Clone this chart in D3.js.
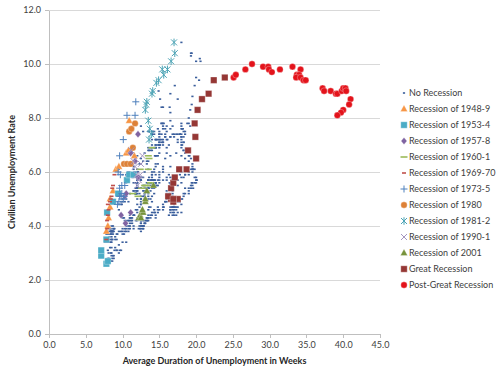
<!DOCTYPE html>
<html lang="en">
<head>
<meta charset="UTF-8">
<title>Unemployment rate vs duration</title>
<script src="https://cdn.jsdelivr.net/npm/d3@7"></script>
<style>
  body { margin: 0; background: #fff; }
  svg { font-family: Lato, "Open Sans", sans-serif; }
  .tick text { font-size: 9px; fill: #404040; }
  .axis-title { font-size: 9px; font-weight: bold; fill: #262626; }
  .legend text { font-size: 9px; fill: #404040; }
</style>
</head>
<body>
<svg width="500" height="375"></svg>
<script>
// series names in legend order
var seriesNames = ["No Recession", "Recession of 1948-9", "Recession of 1953-4", "Recession of 1957-8",
  "Recession of 1960-1", "Recession of 1969-70", "Recession of 1973-5", "Recession of 1980",
  "Recession of 1981-2", "Recession of 1990-1", "Recession of 2001", "Great Recession", "Post-Great Recession"];

var xTicks = [0, 5, 10, 15, 20, 25, 30, 35, 40, 45];
var yTicks = [0, 2, 4, 6, 8, 10, 12];

// [average duration (weeks), unemployment rate]
var noRecession = [
  [8.5,3.4],[8.4,3.8],[8.7,4.0],[8.9,3.9],[8.6,3.5],[8.2,3.6],[8.5,3.6],[8.3,3.9],[8.0,3.8],[8.1,3.7],
  [11.5,6.4],[12.0,6.6],
  [12.5,6.5],[13.5,6.4],[13.3,6.3],[13.6,5.8],[13.0,5.5],[12.5,5.4],[12.5,5.0],[12.0,4.5],[11.5,4.4],[10.8,4.2],[10.3,4.2],[10.0,4.3],
  [10.0,3.7],[10.5,3.4],[10.0,3.4],[9.8,3.1],[9.5,3.0],[9.0,3.2],[9.2,3.1],[9.6,3.1],[9.5,3.3],[9.0,3.5],[9.2,3.5],[9.2,3.1],
  [8.5,3.2],[8.9,3.1],[8.8,2.9],[8.5,2.9],[8.4,3.0],[8.5,3.0],[8.3,3.2],[8.4,3.4],[8.0,3.1],[8.1,3.0],[8.6,2.8],[8.4,2.7],
  [8.7,2.9],[8.3,2.7],[8.0,2.8],[8.6,2.7],[8.8,2.8],[8.2,2.8],
  [12.0,5.6],[12.5,5.8],[13.0,6.0],[13.5,6.1],[13.5,5.7],[13.8,5.3],[13.5,5.0],
  [14.0,4.9],[13.8,4.7],[13.5,4.6],[13.6,4.7],[13.5,4.3],[13.0,4.2],[12.8,4.0],[12.5,4.2],[12.5,4.1],[12.0,4.3],[12.0,4.2],[11.8,4.2],
  [11.5,4.0],[11.5,3.9],[11.3,4.2],[11.0,4.0],[11.2,4.3],[11.0,4.3],[11.0,4.4],[11.3,4.1],[11.0,3.9],[10.8,3.9],[11.0,4.3],[11.2,4.2],
  [10.8,4.2],[10.5,3.9],[10.2,3.7],[10.3,3.9],[10.3,4.1],[10.2,4.3],[10.5,4.2],
  [14.0,7.4],[15.0,7.3],[16.0,7.5],[16.8,7.4],[17.5,7.1],[17.3,6.7],[16.5,6.2],[15.5,6.2],
  [15.5,6.0],[15.0,5.9],[14.5,5.6],[14.3,5.2],[14.0,5.1],[13.8,5.0],[13.5,5.1],[13.0,5.2],[12.8,5.5],[12.5,5.7],[12.8,5.8],[13.0,5.3],
  [13.0,5.2],[12.5,4.8],[12.0,5.4],
  [14.5,6.9],[15.0,7.0],[15.5,7.1],[16.0,6.9],[16.3,7.0],[16.5,6.6],[16.0,6.7],[15.8,6.5],[15.5,6.1],[15.0,6.0],
  [15.0,5.8],[14.8,5.5],[15.0,5.6],[14.5,5.6],[14.5,5.5],[14.6,5.5],[14.3,5.4],[14.3,5.7],[14.5,5.6],[14.0,5.4],[14.0,5.7],[14.3,5.5],
  [14.3,5.7],[14.0,5.9],[14.2,5.7],[14.4,5.7],[14.0,5.9],[13.8,5.6],[14.0,5.6],[14.2,5.4],[14.0,5.5],[13.8,5.5],[13.5,5.7],[13.5,5.5],
  [13.8,5.6],[13.5,5.4],[13.6,5.4],[13.3,5.3],[13.0,5.1],[13.5,5.2],[13.3,4.9],[13.0,5.0],[13.0,5.1],[12.8,5.1],[12.5,4.8],[12.5,5.0],
  [12.5,4.9],[12.5,5.1],[12.3,4.7],[12.0,4.8],[12.0,4.6],[11.8,4.6],[11.5,4.4],[11.6,4.4],[11.3,4.3],[11.0,4.2],[11.0,4.1],[10.8,4.0],
  [10.5,4.0],[10.8,3.8],[10.5,3.8],[10.3,3.8],[10.0,3.9],[10.0,3.8],[9.8,3.8],[9.5,3.8],[9.3,3.7],[9.2,3.7],[9.0,3.6],[8.8,3.8],
  [8.8,3.9],[8.5,3.8],[8.6,3.8],[8.7,3.8],[8.5,3.8],[8.8,3.9],[8.7,3.8],[8.4,3.8],[8.6,3.8],[8.5,4.0],[8.5,3.9],[8.3,3.8],
  [8.4,3.7],[8.5,3.8],[8.3,3.7],[8.2,3.5],[8.6,3.5],[8.5,3.7],[8.7,3.7],[8.4,3.5],[8.0,3.4],[8.2,3.4],[8.1,3.4],[8.0,3.4],
  [7.8,3.4],[7.9,3.4],[7.8,3.4],[7.7,3.4],[7.6,3.4],[7.8,3.5],[7.9,3.5],[7.8,3.5],[7.8,3.7],[7.9,3.7],[7.8,3.5],
  [9.5,6.1],
  [10.0,5.9],[10.5,5.9],[10.8,6.0],[11.0,5.9],[11.2,5.9],[11.5,5.9],[11.8,6.0],[11.5,6.1],[11.8,6.0],[11.5,5.8],[12.0,6.0],[12.1,6.0],
  [12.5,5.8],[12.5,5.7],[12.3,5.8],[12.0,5.7],[12.5,5.7],[12.0,5.7],[12.0,5.6],[11.8,5.6],[12.0,5.5],[11.5,5.6],[11.5,5.3],[11.0,5.2],
  [10.8,4.9],[10.5,5.0],[10.3,4.9],[10.0,5.0],[10.0,4.9],[9.8,4.9],[9.8,4.8],[9.9,4.8],[9.5,4.8],[9.5,4.6],
  [14.9,9.0],[15.1,8.7],[15.3,8.4],[15.5,8.4],[16.4,8.4],[16.5,8.2],[17.1,9.2],[17.5,8.7],[16.5,8.9],
  [16.5,7.9],[16.8,7.7],[16.5,7.6],[16.0,7.7],[15.8,7.4],[15.5,7.6],[15.3,7.8],[15.5,7.8],[15.8,7.6],[15.5,7.7],[15.6,7.8],[15.3,7.8],
  [15.0,7.5],[14.8,7.6],[15.0,7.4],[14.5,7.2],[14.5,7.0],[14.6,7.2],[14.3,6.9],[14.0,7.0],[13.8,6.8],[13.5,6.8],[13.6,6.8],[13.3,6.4],
  [12.8,6.4],[12.5,6.3],[12.3,6.3],[12.0,6.1],[12.0,6.0],[11.8,5.9],[11.5,6.2],[11.5,5.9],[11.6,6.0],[11.3,5.8],[11.0,5.9],[11.0,6.0],
  [11.0,5.9],[10.8,5.9],[10.8,5.8],[10.5,5.8],[10.5,5.6],[10.8,5.7],[10.5,5.7],[10.8,6.0],[10.5,5.9],[10.9,6.0],[10.8,5.9],[10.7,6.0],
  [12.5,7.7],[12.8,7.5],[13.5,7.5],[13.6,7.5],[14.0,7.2],[14.0,7.5],[14.3,7.4],[14.0,7.4],[14.5,7.2],[14.3,7.5],[14.1,7.5],
  [18.0,10.8],[19.3,10.4],[19.4,10.4],[19.3,10.3],[20.5,10.2],[20.6,10.1],[20.0,10.1],[20.4,9.4],[20.0,9.5],[19.8,9.2],[19.5,8.8],[19.4,8.5],[19.2,8.3],
  [19.0,8.0],[18.8,7.8],[19.0,7.8],[19.2,7.7],[18.5,7.4],[18.0,7.2],[18.5,7.5],[18.3,7.5],[18.0,7.3],[17.5,7.4],[17.5,7.2],[17.0,7.3],
  [16.5,7.3],[16.0,7.2],[16.1,7.2],[15.8,7.3],[15.5,7.2],[15.0,7.4],[15.3,7.4],[15.5,7.1],[15.0,7.1],[15.3,7.1],[15.0,7.0],[15.1,7.0],
  [15.0,6.7],[14.8,7.2],[15.0,7.2],[15.0,7.1],[15.1,7.2],[15.3,7.2],[15.0,7.0],[15.0,6.9],[14.5,7.0],[14.8,7.0],[14.5,6.9],[14.8,6.6],
  [14.5,6.6],[14.6,6.6],[14.4,6.6],[14.8,6.3],[14.5,6.3],[14.5,6.2],[14.3,6.1],[14.0,6.0],[14.5,5.9],[14.3,6.0],[14.0,5.8],[14.0,5.7],
  [13.8,5.7],[13.5,5.7],[13.9,5.7],[13.5,5.4],[13.5,5.6],[13.3,5.4],[13.5,5.4],[13.3,5.6],[13.0,5.4],[13.3,5.4],[13.0,5.3],[12.8,5.3],
  [12.5,5.4],[12.0,5.2],[12.0,5.0],[11.8,5.2],[11.9,5.2],[11.5,5.3],[11.8,5.2],[11.7,5.2],[11.8,5.3],[12.0,5.3],[11.8,5.4],[12.0,5.4],
  [12.0,5.4],[12.0,5.3],[12.3,5.2],[12.1,5.4],[11.8,5.4],[11.8,5.2],
  [13.0,6.7],[13.5,6.9],[13.8,6.9],[14.0,6.8],[14.0,6.9],[14.5,6.9],[15.0,7.0],[15.5,7.0],[15.8,7.3],
  [16.5,7.3],[17.0,7.4],[17.3,7.4],[17.8,7.4],[18.0,7.6],[18.0,7.8],[18.0,7.7],[18.1,7.6],[18.2,7.6],[18.3,7.3],[18.0,7.4],[17.8,7.4],
  [18.0,7.3],[18.3,7.1],[18.0,7.0],[18.0,7.1],[18.3,7.1],[18.1,7.0],[18.0,6.9],[18.3,6.8],[18.5,6.7],[18.3,6.8],[18.0,6.6],[18.5,6.5],
  [19.0,6.6],[19.1,6.6],[19.3,6.5],[19.0,6.4],[19.5,6.1],[19.6,6.1],[19.5,6.1],[19.0,6.0],[18.5,5.9],[18.3,5.8],[18.0,5.6],[17.5,5.5],
  [17.0,5.6],[16.5,5.4],[16.6,5.4],[16.0,5.8],[16.5,5.6],[16.6,5.6],[16.8,5.7],[16.9,5.7],[16.8,5.6],[16.5,5.5],[16.4,5.6],[16.5,5.6],
  [16.8,5.6],[16.5,5.5],[16.6,5.5],[16.8,5.6],[16.9,5.6],[16.8,5.3],[16.8,5.5],[16.8,5.1],[16.5,5.2],[16.8,5.2],[16.5,5.4],[16.8,5.4],
  [16.0,5.3],[16.3,5.2],[16.0,5.2],[16.0,5.1],[16.0,4.9],[16.0,5.0],[15.8,4.9],[15.5,4.8],[15.8,4.9],[15.5,4.7],[15.5,4.6],[15.6,4.7],
  [15.0,4.6],[14.8,4.6],[14.8,4.7],[14.5,4.3],[14.5,4.4],[14.8,4.5],[14.3,4.5],[14.4,4.5],[14.3,4.6],[14.0,4.5],[14.0,4.4],[13.8,4.4],
  [13.8,4.3],[13.5,4.4],[13.5,4.2],[13.3,4.3],[13.4,4.2],[13.3,4.3],[13.5,4.3],[13.3,4.2],[13.2,4.2],[13.0,4.1],[13.1,4.1],[12.8,4.0],
  [12.8,3.9],[13.0,4.1],[12.9,4.0],[12.5,3.8],[12.3,4.0],[12.5,4.0],[12.6,4.0],[12.5,4.1],[12.8,3.9],[12.5,3.9],[12.4,3.9],[12.2,3.9],
  [12.8,4.2],[12.5,4.2],
  [14.8,5.7],[15.0,5.7],[15.5,5.7],[16.0,5.7],[16.3,5.9],[16.5,5.8],[16.8,5.8],[17.0,5.8],[16.8,5.7],[17.0,5.7],[17.5,5.7],[17.8,5.9],[18.0,6.0],
  [18.0,5.8],[18.5,5.9],[19.0,5.9],[19.0,6.0],[19.3,6.1],[19.5,6.3],[19.5,6.2],[19.6,6.1],[19.8,6.1],[19.5,6.0],[19.8,5.8],[20.0,5.7],
  [20.1,5.7],[20.0,5.6],[20.0,5.8],[19.8,5.6],[19.5,5.6],[19.4,5.6],[19.3,5.5],[19.0,5.4],[19.3,5.4],[19.5,5.5],[19.6,5.4],[19.0,5.3],
  [19.0,5.2],[18.5,5.4],[18.5,5.2],[18.3,5.2],[18.3,5.1],[18.0,5.0],[18.1,5.0],[17.8,4.9],[18.0,4.8],[17.8,5.0],[17.5,5.0],[17.5,4.9],
  [17.0,4.7],[17.0,4.8],[16.8,4.7],[16.9,4.7],[16.5,4.6],[16.8,4.6],[16.7,4.7],[16.5,4.7],[17.0,4.5],[16.8,4.4],[16.5,4.5],[16.3,4.4],
  [16.5,4.6],[16.8,4.5],[17.0,4.4],[17.5,4.5],[17.3,4.4],[17.0,4.6],[17.1,4.7],[17.3,4.6],[17.5,4.7],[18.0,4.5],[17.3,4.7]
];
var recession1948 = [[7.8,3.8],[8.0,4.0],[8.1,4.3],[8.3,4.7],[8.3,5.0],[8.7,5.3],[9.1,6.1],[9.5,6.2],[10.5,6.7],[10.8,6.8],[11.6,6.6],[10.9,7.9]];
var recession1953 = [[7.8,2.6],[8.0,2.7],[7.1,2.9],[7.1,3.1],[7.8,3.5],[7.9,4.5],[8.7,4.9],[9.4,5.2],[10.6,5.7],[10.9,5.9],[11.5,5.9]];
var recession1957 = [[10.4,4.1],[9.8,4.4],[11.1,4.5],[10.3,5.1],[10.5,5.2],[12.1,5.8],[11.7,6.4],[11.1,6.7],[12.1,7.4]];
var recession1960 = [[11.4,5.2],[12.1,5.1],[12.6,5.4],[13.0,5.5],[13.8,5.6],[13.3,5.5],[12.4,6.1],[13.5,6.1],[13.6,6.5],[13.5,6.6],[14.0,6.9]];
var recession1969 = [[7.8,3.5],[7.9,3.9],[7.9,4.2],[8.0,4.4],[8.1,4.6],[8.0,4.8],[8.3,4.9],[8.4,5.0],[8.5,5.1],[8.6,5.4],[8.7,5.5],[8.9,5.9]];
var recession1973 = [[9.3,4.8],[9.5,4.9],[9.8,5.1],[9.9,5.2],[10.1,5.0],[9.6,5.1],[10.2,5.1],[9.6,5.4],[9.9,5.5],[10.3,5.5],[9.7,5.9],[9.4,6.0],[9.6,6.6],[10.1,7.2],[10.6,8.1],[11.7,8.1],[11.8,8.6]];
var recession1980 = [[10.2,6.3],[10.6,6.3],[11.1,6.3],[11.4,6.9],[10.9,7.5],[11.2,7.6],[11.7,7.8]];
var recession1981 = [[13.6,7.2],[13.9,7.4],[13.7,7.6],[13.5,7.9],[13.1,8.3],[13.2,8.5],[13.3,8.6],[14.0,8.9],[14.1,9.0],[14.6,9.3],[14.9,9.4],[15.6,9.6],[15.4,9.8],[16.1,9.8],[16.6,10.1],[17.1,10.4],[17.0,10.8]];
var recession1990 = [[12.0,5.5],[12.2,5.7],[11.9,5.9],[12.4,5.9],[11.7,6.2],[12.5,6.3],[11.5,6.4],[12.7,6.6],[11.2,6.8]];
var recession2001 = [[12.2,4.3],[12.4,4.4],[12.5,4.3],[12.8,4.5],[12.7,4.6],[13.1,4.9],[13.1,5.0],[13.3,5.3],[14.2,5.5]];
var greatRecession = [[16.6,5.0],[17.5,5.0],[16.9,4.9],[16.2,5.1],[16.9,5.0],[16.6,5.4],[16.9,5.6],[17.1,5.8],[17.7,6.1],[18.7,6.1],[20.0,6.5],[18.9,6.8],[19.9,7.3],[19.8,7.8],[20.2,8.3],[20.8,8.7],[21.7,8.9],[22.4,9.4],[23.9,9.5]];
var postGreatRecession = [[25.1,9.5],[25.4,9.6],[26.7,9.8],[27.6,10.0],[29.1,9.9],[29.8,9.9],[29.9,9.8],[30.3,9.7],[31.4,9.8],[33.1,9.9],[34.2,9.8],[33.7,9.6],[34.0,9.6],[33.6,9.5],[34.2,9.5],[34.6,9.4],[34.9,9.4],[37.2,9.1],[37.4,9.0],[38.3,9.0],[39.0,8.9],[39.2,8.9],[39.8,9.0],[40.0,9.1],[40.3,9.1],[40.4,9.0],[41.0,8.7],[40.8,8.5],[40.0,8.3],[39.7,8.2],[39.2,8.1]];

var seriesData = [noRecession, recession1948, recession1953, recession1957, recession1960, recession1969,
  recession1973, recession1980, recession1981, recession1990, recession2001, greatRecession, postGreatRecession];

// marker look per series
var markerStyle = [
  {shape: "dot", color: "#3a5e9c"},
  {shape: "triangle", color: "#f79646"},
  {shape: "square", color: "#4bacc6"},
  {shape: "diamond", color: "#8064a2"},
  {shape: "dash", color: "#9bbb59"},
  {shape: "shortdash", color: "#c0504d"},
  {shape: "plus", color: "#4f81bd"},
  {shape: "circle", color: "#dd8137"},
  {shape: "star", color: "#4ba3b5"},
  {shape: "times", color: "#a495c0"},
  {shape: "triangle", color: "#77933c"},
  {shape: "square", color: "#953735"},
  {shape: "circle", color: "#e3131b"}
];

var paths = {
  dot: "M-1.1,-0.8h2.2v1.6h-2.2z",
  triangle: "M0,-4L3.6,2.6L-3.6,2.6Z",
  square: "M-3.2,-3.2h6.4v6.4h-6.4z",
  diamond: "M0,-3.6L3,0L0,3.6L-3,0Z",
  dash: "M-3.5,0H3.5",
  shortdash: "M-2,0H2",
  plus: "M-3.5,0H3.5M0,-3.5V3.5",
  circle: "M3.2,0A3.2,3.2 0 1,1 -3.2,0A3.2,3.2 0 1,1 3.2,0Z",
  star: "M-3,-3L3,3M-3,3L3,-3M0,-3.8V3.8",
  times: "M-3,-3L3,3M-3,3L3,-3"
};
var strokeShapes = ["dash", "shortdash", "plus", "star", "times"];

function styleMarker(sel, st) {
  var stroked = strokeShapes.indexOf(st.shape) >= 0;
  sel.attr("d", paths[st.shape])
    .attr("fill", stroked ? "none" : st.color)
    .attr("stroke", stroked ? st.color : (st.shape == "dot" ? "none" : "#ffffff"))
    .attr("stroke-opacity", stroked ? 1 : 0.5)
    .attr("stroke-width", stroked ? (st.shape.indexOf("dash") >= 0 ? 1.6 : 1) : 0.6);
}

var svg = d3.select("svg");
var margin = {top: 10, left: 49, right: 120, bottom: 41};
var width = 500 - margin.left - margin.right;
var height = 375 - margin.top - margin.bottom;

var x = d3.scaleLinear().domain([0, 45]).range([0, width]);
var y = d3.scaleLinear().domain([0, 12]).range([height, 0]);

var g = svg.append("g").attr("transform", "translate(" + margin.left + "," + margin.top + ")");

// gridlines
g.selectAll(".grid").data(yTicks.slice(1)).enter().append("line")
  .attr("x1", 0).attr("x2", width)
  .attr("y1", function (d) { return y(d); }).attr("y2", function (d) { return y(d); })
  .attr("stroke", "#d9d9d9").attr("stroke-width", 1).attr("shape-rendering", "crispEdges");

var yAxis = g.append("g").call(d3.axisLeft(y).tickValues(yTicks).tickFormat(d3.format(".1f")).tickSize(4).tickSizeOuter(0).tickPadding(4));
var xAxis = g.append("g").attr("transform", "translate(0," + height + ")")
  .call(d3.axisBottom(x).tickValues(xTicks).tickFormat(d3.format(".1f")).tickSize(4).tickSizeOuter(0).tickPadding(4));
[xAxis, yAxis].forEach(function (a) {
  a.attr("font-family", null).attr("font-size", null);
  a.select(".domain").attr("stroke", "#bfbfbf").attr("shape-rendering", "crispEdges");
  a.selectAll(".tick line").attr("stroke", "#bfbfbf").attr("shape-rendering", "crispEdges");
});

// points
seriesData.forEach(function (pts, i) {
  g.append("g").selectAll("path").data(pts).enter().append("path")
    .attr("transform", function (d) { return "translate(" + x(d[0]) + "," + y(d[1]) + ")"; })
    .call(styleMarker, markerStyle[i]);
});

// axis titles
svg.append("text").attr("class", "axis-title")
  .attr("x", margin.left + width / 2).attr("y", 364).attr("text-anchor", "middle")
  .text("Average Duration of Unemployment in Weeks");
svg.append("text").attr("class", "axis-title")
  .attr("transform", "translate(15," + (margin.top + height / 2) + ") rotate(-90)")
  .attr("text-anchor", "middle")
  .text("Civilian Unemployment Rate");

// legend
var legend = svg.append("g").attr("class", "legend").attr("transform", "translate(404,93)");
var item = legend.selectAll("g").data(seriesNames).enter().append("g")
  .attr("transform", function (d, i) { return "translate(0," + i * 16 + ")"; });
item.append("path").each(function (d, i) { d3.select(this).call(styleMarker, markerStyle[i]); });
item.append("text").attr("x", 5).attr("dy", "0.35em").text(function (d) { return d; });
</script>
</body>
</html>
